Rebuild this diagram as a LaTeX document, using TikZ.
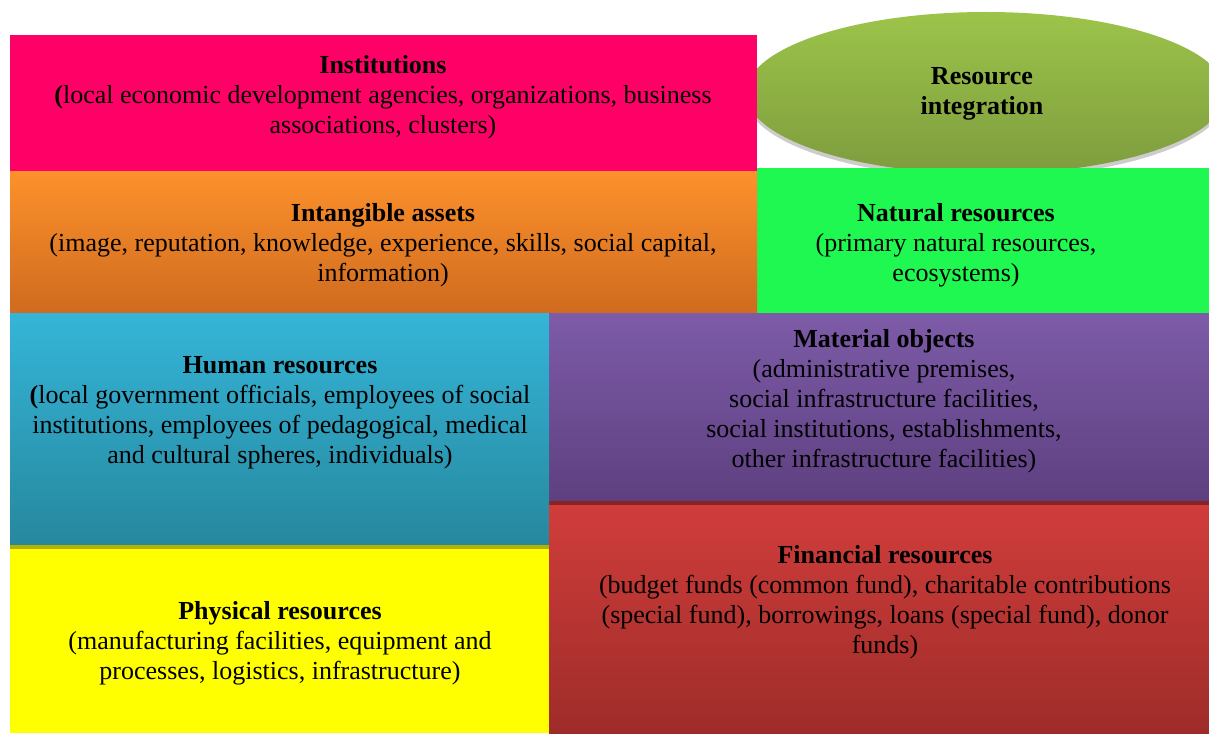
\documentclass[tikz,border=0pt]{standalone}
\usepackage{fontspec}
\setmainfont{Liberation Serif}
\usepackage{tikz}
\usetikzlibrary{positioning}
\definecolor{rose-inst}{HTML}{FF0066}
\definecolor{orange-haut}{HTML}{FD912B}
\definecolor{orange-bas}{HTML}{CF6B1F}
\definecolor{vert-nat}{HTML}{1FF850}
\definecolor{olive-haut}{HTML}{9CC44A}
\definecolor{olive-bas}{HTML}{7E9C3E}
\definecolor{bleu-haut}{HTML}{35B5D8}
\definecolor{bleu-bas}{HTML}{26889E}
\definecolor{violet-haut}{HTML}{7D5BA8}
\definecolor{violet-bas}{HTML}{5E4080}
\definecolor{rouge-haut}{HTML}{D03D3B}
\definecolor{rouge-bas}{HTML}{9E2C29}
\definecolor{jaune-phys}{HTML}{FFFF00}
\tikzstyle{texte-std}=[align=center,inner sep=0pt,font=\fontsize{26}{30}\selectfont]

\begin{document}
\begin{tikzpicture}[x=1pt,y=-1pt]
\useasboundingbox (0,0) rectangle (1209,733);

\fill[gray!40] (986,97) ellipse [x radius=240,y radius=81];
\shade[top color=olive-haut,bottom color=olive-bas] (986,93) ellipse [x radius=240,y radius=81];
\fill[vert-nat] (692,168) rectangle (1209,314);
\fill[rose-inst] (10,35) rectangle (757,171);
\shade[top color=orange-haut,bottom color=orange-bas] (10,171) rectangle (757,313);
\fill[rouge-bas!85!black] (549,313) rectangle (1209,506);
\shade[top color=violet-haut,bottom color=violet-bas] (549,313) rectangle (1209,500);
\fill[jaune-phys!70!black] (10,313) rectangle (549,549);
\shade[top color=bleu-haut,bottom color=bleu-bas] (10,313) rectangle (549,544);
\shade[top color=rouge-haut,bottom color=rouge-bas] (549,505) rectangle (1209,733);
\fill[jaune-phys] (10,549) rectangle (549,733);

\node[texte-std] (integration) at (982,94) {\textbf{Resource}\\\textbf{integration}};
\node[texte-std] (institutions) at (383,97) {\textbf{Institutions}\\\textbf{(}local economic development agencies, organizations, business\\associations, clusters)};
\node[texte-std] (immateriel) at (383,245) {\textbf{Intangible assets}\\(image, reputation, knowledge, experience, skills, social capital,\\information)};
\node[texte-std] (naturel) at (956,245) {\textbf{Natural resources}\\(primary natural resources,\\ecosystems)};
\node[texte-std] (humain) at (280,413) {\textbf{Human resources}\\\textbf{(}local government officials, employees of social\\institutions, employees of pedagogical, medical\\and cultural spheres, individuals)};
\node[texte-std] (materiel) at (884,401) {\textbf{Material objects}\\(administrative premises,\\social infrastructure facilities,\\social institutions, establishments,\\other infrastructure facilities)};
\node[texte-std] (financier) at (885,602) {\textbf{Financial resources}\\(budget funds (common fund), charitable contributions\\(special fund), borrowings, loans (special fund), donor\\funds)};
\node[texte-std] (physique) at (280,643) {\textbf{Physical resources}\\(manufacturing facilities, equipment and\\processes, logistics, infrastructure)};
\end{tikzpicture}
\end{document}
